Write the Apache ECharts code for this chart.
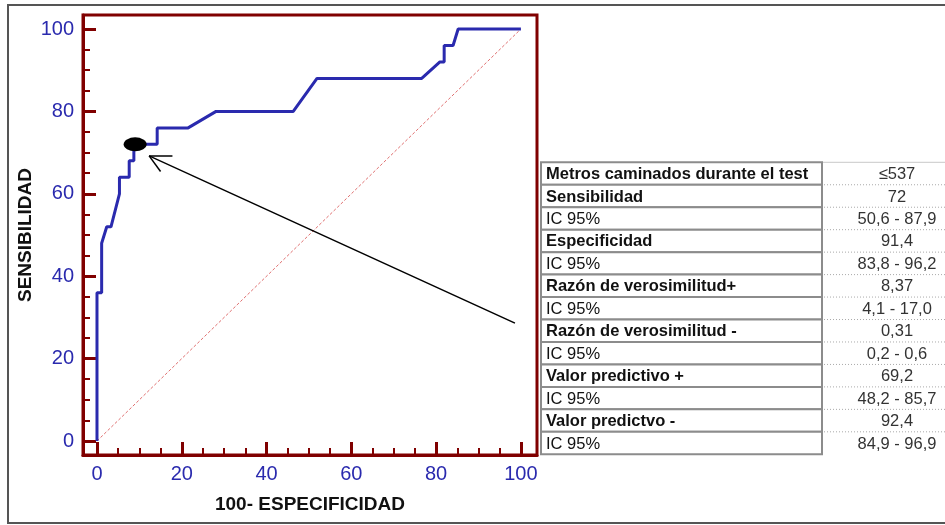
<!DOCTYPE html>
<html>
<head>
<meta charset="utf-8">
<script src="https://cdn.jsdelivr.net/npm/echarts@6/dist/echarts.min.js"></script>
<style>html,body{margin:0;padding:0;background:#fff;}#c{width:945px;height:525px;}</style>
</head>
<body>
<div id="c"></div>
<script>
// ---- data ----
var rocX = [0, 0, 1.1, 1.1, 2.3, 3.3, 5.3, 5.3, 7.6, 7.6, 8.7, 8.7, 14.2, 14.2, 21.5, 28.1, 46.3, 51.9, 76.6, 80.9, 81.9, 81.9, 84.0, 85.2, 100];
var rocY = [0, 36, 36, 48, 52, 52, 60, 64, 64, 68, 68, 72, 72, 76, 76, 80, 80, 88, 88, 92, 92, 96, 96, 100, 100];
var refX = [0, 100];
var refY = [0, 100];
var cutPoint = [9, 72];
var arrowX = [98.6, 12.3];
var arrowY = [28.6, 69.2];
var headLeg1X = [12.3, 17.8], headLeg1Y = [69.2, 69.2];
var headLeg2X = [12.3, 15.0], headLeg2Y = [69.2, 65.4];
var majorTicks = [0, 20, 40, 60, 80, 100];
var minorTicks = [5, 10, 15, 25, 30, 35, 45, 50, 55, 65, 70, 75, 85, 90, 95];
var tableLabels = ['Metros caminados durante el test', 'Sensibilidad', 'IC 95%', 'Especificidad', 'IC 95%',
  'Razón de verosimilitud+', 'IC 95%', 'Razón de verosimilitud -', 'IC 95%', 'Valor predictivo +', 'IC 95%',
  'Valor predictvo -', 'IC 95%'];
var tableValues = ['≤537', '72', '50,6 - 87,9', '91,4', '83,8 - 96,2', '8,37', '4,1 - 17,0', '0,31',
  '0,2 - 0,6', '69,2', '48,2 - 85,7', '92,4', '84,9 - 96,9'];

function zip(a, b) { return a.map(function (v, i) { return [v, b[i]]; }); }

var FONT = '"Liberation Sans", Arial, sans-serif';
var RED = '#800000';
var BLUE = '#2a2aae';

// ---- table graphic ----
var T = { x: 541, top: 162.3, rowH: 22.46, leftW: 281, valCx: 897, right: 960 };
var g = [];
g.push({ type: 'rect', shape: { x: 8, y: 5, width: 960, height: 518 }, style: { fill: 'none', stroke: '#555', lineWidth: 2 }, z: 0, silent: true });
g.push({ type: 'line', shape: { x1: T.x + T.leftW, y1: T.top, x2: T.right, y2: T.top }, style: { stroke: '#c8c8c8', lineWidth: 1 }, z: 10 });
tableLabels.forEach(function (lab, i) {
  var y = T.top + i * T.rowH;
  g.push({ type: 'rect', shape: { x: T.x, y: y, width: T.leftW, height: T.rowH }, style: { fill: '#fff', stroke: '#8c8c8c', lineWidth: 2 }, z: 10 });
  g.push({ type: 'text', x: T.x + 5, y: y + T.rowH / 2 + 1, style: { text: lab, fill: '#111', font: (lab === 'IC 95%' ? 'normal ' : 'bold ') + '16.5px ' + FONT, verticalAlign: 'middle', align: 'left' }, z: 11 });
  g.push({ type: 'text', x: T.valCx, y: y + T.rowH / 2 + 1, style: { text: tableValues[i], fill: '#333', font: 'normal 16.5px ' + FONT, verticalAlign: 'middle', align: 'center' }, z: 11 });
  if (i < tableLabels.length - 1) {
    g.push({ type: 'line', shape: { x1: T.x + T.leftW + 2, y1: y + T.rowH, x2: T.right, y2: y + T.rowH }, style: { stroke: '#aaa', lineWidth: 1, lineDash: [1, 2] }, z: 10 });
  }
});

var chart = echarts.init(document.getElementById('c'));
var axisCommon = { type: 'value', splitLine: { show: false } };
chart.setOption({
  animation: false,
  backgroundColor: '#fff',
  grid: { left: 83, top: 15, width: 454, height: 440, show: true, borderColor: RED, borderWidth: 3, backgroundColor: '#fff' },
  xAxis: [
    Object.assign({}, axisCommon, {
      min: -3.3, max: 103.8, position: 'bottom',
      name: '100- ESPECIFICIDAD', nameLocation: 'middle', nameGap: 40,
      nameTextStyle: { fontFamily: FONT, fontWeight: 'bold', fontSize: 19, color: '#111' },
      axisLine: { show: true, onZero: false, lineStyle: { color: RED, width: 3 } },
      axisTick: { show: true, inside: true, length: 13, customValues: majorTicks, lineStyle: { color: RED, width: 3 } },
      axisLabel: { customValues: majorTicks, color: BLUE, fontFamily: FONT, fontSize: 20, margin: 9 }
    }),
    Object.assign({}, axisCommon, {
      min: -3.3, max: 103.8, position: 'bottom',
      axisLine: { show: false, onZero: false },
      axisTick: { show: true, inside: true, length: 7, customValues: minorTicks, lineStyle: { color: RED, width: 2 } },
      axisLabel: { show: false }
    })
  ],
  yAxis: [
    Object.assign({}, axisCommon, {
      min: -3.4, max: 103.4, position: 'left',
      name: 'SENSIBILIDAD', nameLocation: 'middle', nameGap: 48, nameRotate: 90,
      nameTextStyle: { fontFamily: FONT, fontWeight: 'bold', fontSize: 19, color: '#111' },
      axisLine: { show: true, onZero: false, lineStyle: { color: RED, width: 3 } },
      axisTick: { show: true, inside: true, length: 13, customValues: majorTicks, lineStyle: { color: RED, width: 3 } },
      axisLabel: { customValues: majorTicks, color: BLUE, fontFamily: FONT, fontSize: 20, margin: 9 }
    }),
    Object.assign({}, axisCommon, {
      min: -3.4, max: 103.4, position: 'left',
      axisLine: { show: false, onZero: false },
      axisTick: { show: true, inside: true, length: 7, customValues: minorTicks, lineStyle: { color: RED, width: 2 } },
      axisLabel: { show: false }
    })
  ],
  graphic: g,
  series: [
    { type: 'line', data: zip(refX, refY), showSymbol: false, lineStyle: { color: '#e07070', width: 1, type: [3, 2] }, z: 2 },
    { type: 'line', data: zip(rocX, rocY), showSymbol: false, lineStyle: { color: BLUE, width: 3 }, z: 3 },
    { type: 'line', data: zip(arrowX, arrowY), showSymbol: false, lineStyle: { color: '#000', width: 1.5 }, z: 4 },
    { type: 'line', data: zip(headLeg1X, headLeg1Y), showSymbol: false, lineStyle: { color: '#000', width: 1.5 }, z: 4 },
    { type: 'line', data: zip(headLeg2X, headLeg2Y), showSymbol: false, lineStyle: { color: '#000', width: 1.5 }, z: 4 },
    { type: 'scatter', data: [cutPoint], symbol: 'circle', symbolSize: [23, 14], itemStyle: { color: '#000', opacity: 1 }, z: 5 }
  ]
});
</script>
</body>
</html>
